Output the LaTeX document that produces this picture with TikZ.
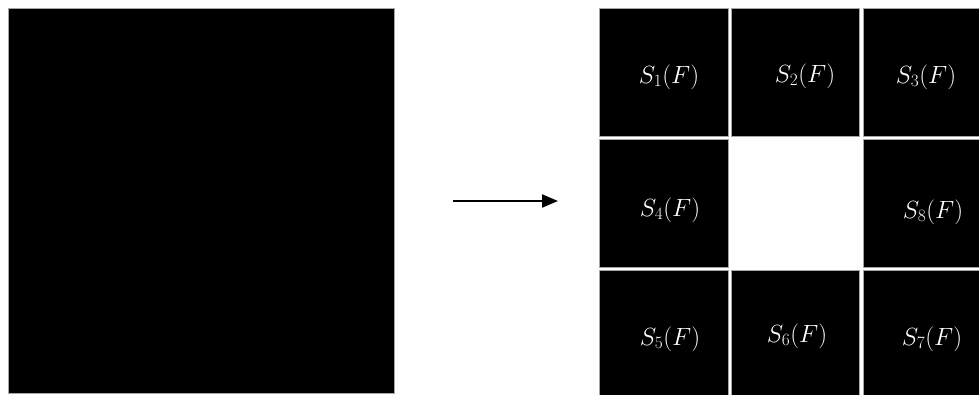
\documentclass[tikz,border=0pt]{standalone}
\usetikzlibrary{arrows.meta}
\begin{document}
\begin{tikzpicture}[x=1pt,y=-1pt,
  cell/.style={fill=black,draw=black!35,line width=0.8pt,inner sep=0pt},
  lbl/.style={text=white,font=\fontsize{25}{30}\selectfont,inner sep=0pt},
  arr/.style={-{Triangle[length=16pt,width=13pt]},line width=2pt}]
\useasboundingbox (0,0) rectangle (979,395);
\fill[white] (0,0) rectangle (979,395);
% left square
\node[cell,minimum width=386pt,minimum height=385pt] (big) at (201,201) {};
% grid cells (corners)
\draw[cell] (599,8) rectangle (728,136) coordinate (c1);
\draw[cell] (731,8) rectangle (859,136) coordinate (c2);
\draw[cell] (863,8) rectangle (979.5,136) coordinate (c3);
\draw[cell] (599,139) rectangle (728,267) coordinate (c4);
\draw[cell] (863,139) rectangle (979.5,267) coordinate (c8);
\draw[cell] (599,270) rectangle (728,396) coordinate (c5);
\draw[cell] (731,270) rectangle (859,396) coordinate (c6);
\draw[cell] (863,270) rectangle (979.5,396) coordinate (c7);
% labels
\node[lbl] (s1) at (669,77) {$S_1(F)$};
\node[lbl] (s2) at (805,76) {$S_2(F)$};
\node[lbl] (s3) at (926,77) {$S_3(F)$};
\node[lbl] (s4) at (670,210) {$S_4(F)$};
\node[lbl] (s8) at (933,212) {$S_8(F)$};
\node[lbl] (s5) at (670,339) {$S_5(F)$};
\node[lbl] (s6) at (797,336) {$S_6(F)$};
\node[lbl] (s7) at (932,339) {$S_7(F)$};
% arrow
\coordinate (a0) at (453,201);
\coordinate (a1) at (558,201);
\draw[arr] (a0) -- (a1);
\end{tikzpicture}
\end{document}
